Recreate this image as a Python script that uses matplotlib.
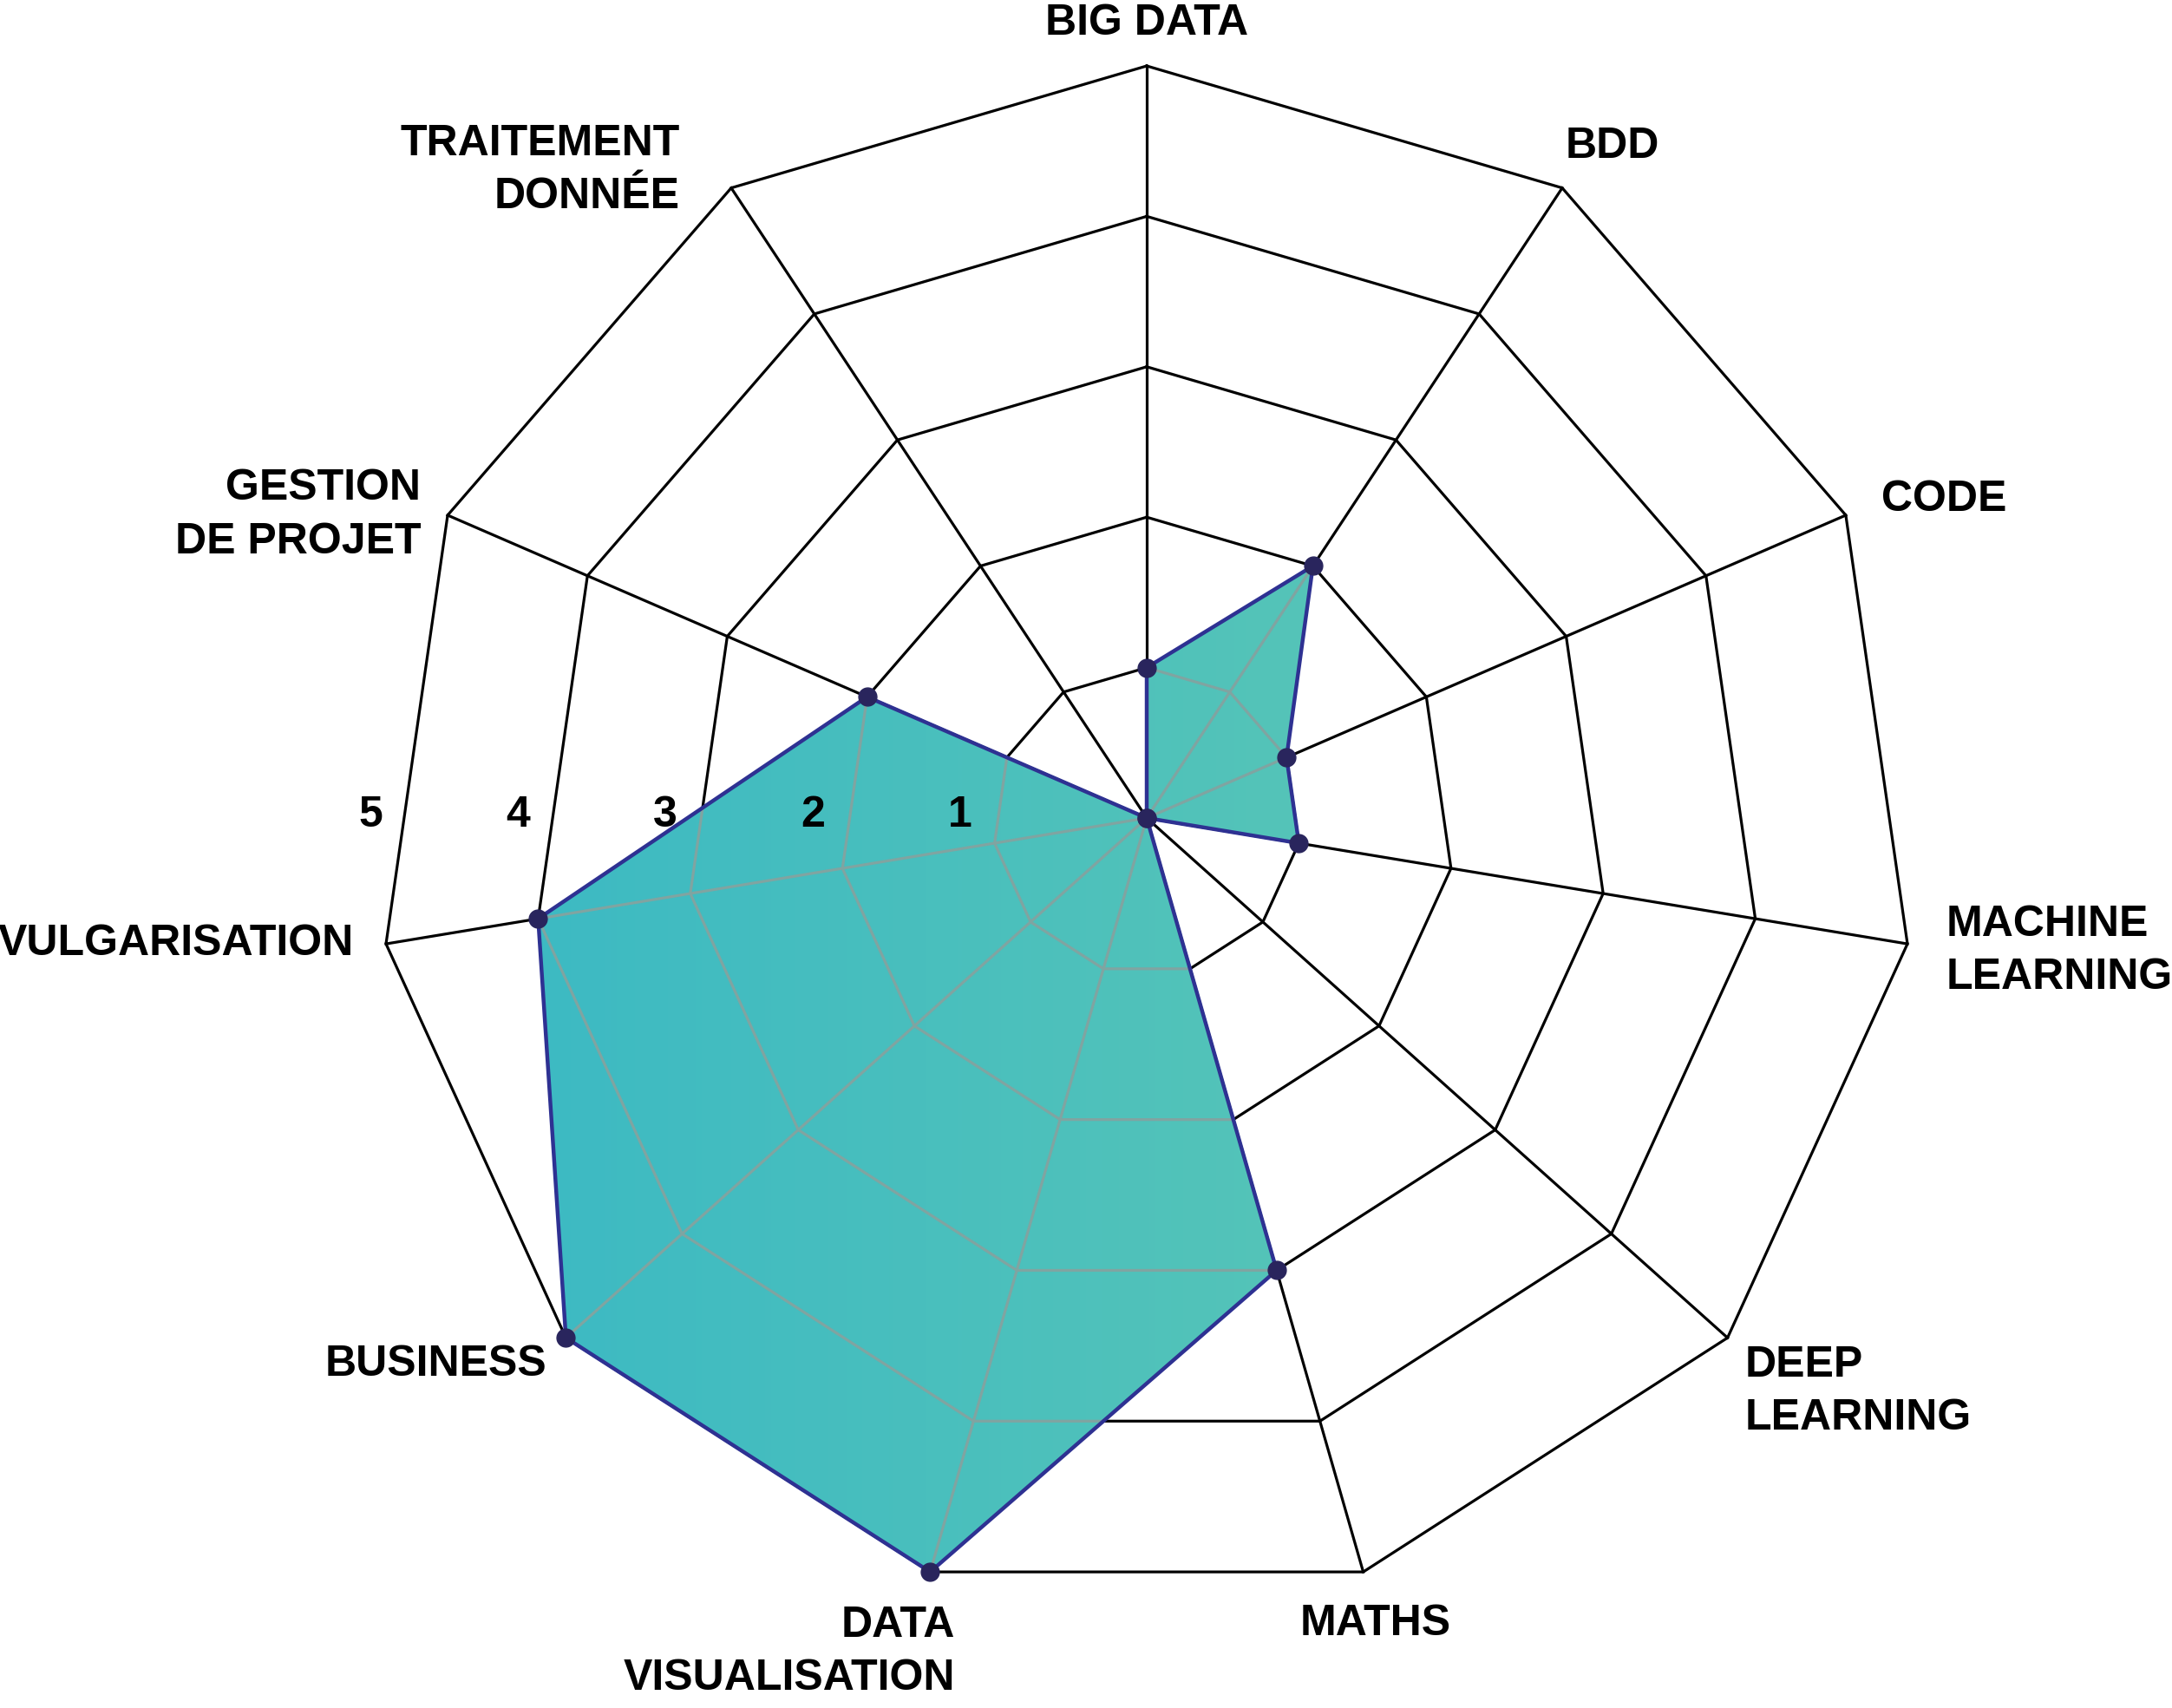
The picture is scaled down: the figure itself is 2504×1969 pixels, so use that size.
import matplotlib
matplotlib.use('Agg')
import matplotlib.pyplot as plt
import numpy as np
from matplotlib.patches import Polygon
from matplotlib.colors import LinearSegmentedColormap

plt.rcParams['font.family'] = ['Liberation Sans', 'DejaVu Sans']

# data
categories = ['BIG DATA', 'BDD', 'CODE', 'MACHINE\nLEARNING', 'DEEP\nLEARNING', 'MATHS',
              'DATA\nVISUALISATION', 'BUSINESS', 'VULGARISATION', 'GESTION\nDE PROJET',
              'TRAITEMENT\nDONNÉE']
scores = [1, 2, 1, 1, 0, 3, 5, 5, 4, 2, 0]
levels = [1, 2, 3, 4, 5]
level_labels = ['1', '2', '3', '4', '5']
max_level = 5

# layout (pixel units, figure is 2504x1969)
W, H = 2504, 1969
hub = np.array([1322.0, 943.0])       # where the spokes meet
centre = np.array([1322.0, 962.0])    # centre of the outer ring
R = 886.0
FS = 36
# label offsets from the outer vertex: dx, dy, ha
label_pos = [(0, -49, 'center'), (4, -48, 'left'), (41, -18, 'left'), (45, 8, 'left'),
             (20, 62, 'left'), (14, 60, 'center'), (29, 92, 'right'), (-22, 31, 'right'),
             (-37, 0, 'right'), (-31, 0, 'right'), (-59, -20, 'right')]

n = len(categories)
theta = np.arange(n) * 2 * np.pi / n
outer = np.column_stack([centre[0] + R * np.sin(theta), centre[1] - R * np.cos(theta)])


def to_xy(vals):
    v = np.asarray(vals, float)[:, None] / max_level
    return hub + v * (outer - hub)


def draw_grid(ax, color, z, clip=None):
    arts = []
    for lvl in levels:
        ring = to_xy([lvl] * n)
        ring = np.vstack([ring, ring[:1]])
        arts += ax.plot(ring[:, 0], ring[:, 1], color=color, lw=2.3, zorder=z,
                        solid_joinstyle='miter')
    for i in range(n):
        arts += ax.plot([hub[0], outer[i, 0]], [hub[1], outer[i, 1]], color=color,
                        lw=2.3, zorder=z)
    if clip is not None:
        for a in arts:
            a.set_clip_path(clip)


fig = plt.figure(figsize=(W / 100, H / 100), dpi=100)
ax = fig.add_axes([0, 0, 1, 1])
ax.axis('off')

# black grid
draw_grid(ax, 'black', 1)

# gradient fill of the scores
pts = to_xy(scores)
poly = Polygon(pts, closed=True, facecolor='none', edgecolor='none', zorder=2)
ax.add_patch(poly)
cmap = LinearSegmentedColormap.from_list('teal', ['#3DBAC3', '#55C4B8'])
grad = np.linspace(0, 1, 256)[None, :]
im = ax.imshow(grad, cmap=cmap, aspect='auto', zorder=2,
               extent=[pts[:, 0].min(), pts[:, 0].max(), pts[:, 1].max(), pts[:, 1].min()])
im.set_clip_path(poly)

# grey grid over the fill
draw_grid(ax, '#80A4A1', 3, clip=poly)

# outline and markers
closed = np.vstack([pts, pts[:1]])
ax.plot(closed[:, 0], closed[:, 1], color='#2E3192', lw=3.2, zorder=4)
ax.plot(pts[:, 0], pts[:, 1], 'o', ms=15, color='#29255D', zorder=5)

# category labels
for i, lab in enumerate(categories):
    dx, dy, ha = label_pos[i]
    ax.text(outer[i, 0] + dx, outer[i, 1] + dy, lab, ha=ha, va='center',
            multialignment=ha, fontsize=FS, fontweight='bold', linespacing=1.42)

# level labels
for lvl, txt in zip(levels, level_labels):
    ax.text(hub[0] - (170 * lvl + 45), hub[1] - 3, txt, ha='center', va='center',
            fontsize=FS, fontweight='bold')

ax.set_xlim(0, W)
ax.set_ylim(H, 0)

fig.savefig('out.png', dpi=100, facecolor='white')
